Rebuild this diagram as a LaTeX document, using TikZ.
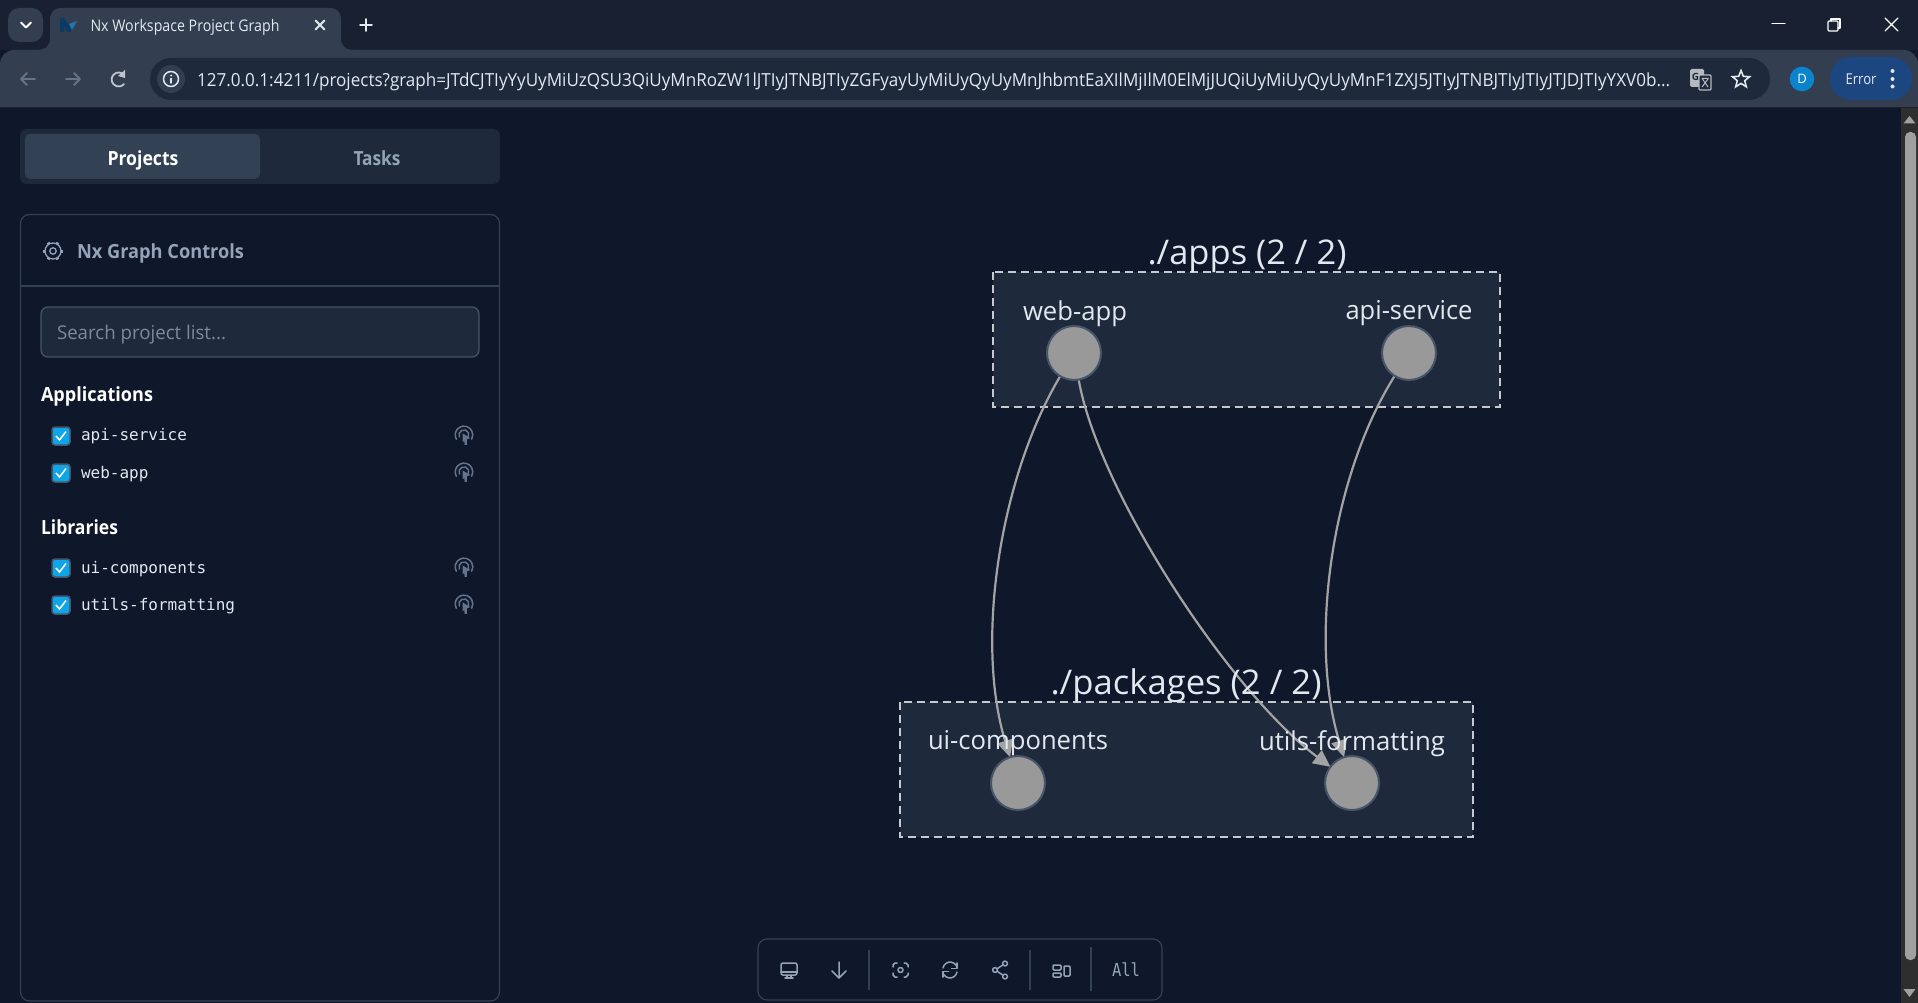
\documentclass[tikz,border=0pt]{standalone}
\usepackage{graphicx}
\usepackage{fontspec}
\setmainfont{Open Sans}
\setmonofont{DejaVu Sans Mono}
\usetikzlibrary{arrows.meta,shapes.geometric,calc}
\definecolor{pagebg}{HTML}{0F172A}
\definecolor{titlebg}{HTML}{182032}
\definecolor{chromebg}{HTML}{333E50}
\definecolor{pillbg}{HTML}{1E293B}
\definecolor{slatea}{HTML}{334155}
\definecolor{slateb}{HTML}{475569}
\definecolor{slatec}{HTML}{64748B}
\definecolor{slated}{HTML}{94A3B8}
\definecolor{lighttext}{HTML}{E2E8F0}
\definecolor{nodegrey}{HTML}{999999}
\definecolor{edgegrey}{HTML}{A3A3A3}
\definecolor{dashgrey}{HTML}{C6C9CE}
\definecolor{skyblue}{HTML}{0EA5E9}
\definecolor{avatarblue}{HTML}{0A84CC}
\definecolor{errorblue}{HTML}{1C4680}
\definecolor{scrolltrack}{HTML}{2E2E2E}
\definecolor{scrollthumb}{HTML}{A0A0A0}
\definecolor{favdark}{HTML}{0B3A66}
\definecolor{favlight}{HTML}{1F77A8}
\newsavebox\fitbox
\newcommand\fitw[2]{\sbox\fitbox{#2}\pgfmathsetmacro\fitr{#1/\the\wd\fitbox}\scalebox{\fitr}[1]{\usebox\fitbox}}
\newcommand\px[1]{\fontsize{#1}{#1}\selectfont}
\pgfdeclarelayer{back}
\pgfdeclarelayer{edgelayer}
\pgfsetlayers{back,edgelayer,main}
\tikzset{
  txt/.style={inner sep=0pt,outer sep=0pt,anchor=center},
  ltxt/.style={inner sep=0pt,outer sep=0pt,anchor=west},
  groupbox/.style={draw=dashgrey,fill=pillbg,line width=2.4pt,dash pattern=on 8pt off 5pt},
  grouplabel/.style={txt,text=lighttext,font=\px{34}},
  nodelabel/.style={txt,text=lighttext,font=\px{26}},
  projnode/.style={circle,fill=nodegrey,draw=slateb,line width=2pt,minimum size=54pt,inner sep=0pt,outer sep=0pt},
  depedge/.style={draw=edgegrey,line width=2.2pt,-{Triangle[length=17pt,width=16pt]}},
  icon/.style={draw=#1,line width=1.5pt,line cap=round,line join=round,fill=none},
  icon/.default=slated,
  chkbox/.pic={
    \draw[fill=skyblue,draw=slateb,line width=1.5pt,rounded corners=3pt] (-9,-9) rectangle (9,9);
    \draw[white,line width=1.5pt] (-5,0) -- (-1.5,4) -- (5,-4.5);
  },
  clickmark/.pic={
    \draw[icon=slatec] (-4.6,2) arc (155:385:5);
    \draw[icon=slatec] (-7.7,4.2) arc (151:389:8.8);
    \draw[slatec,fill=slatec,line width=.6pt] (-1,-1) -- (5.5,3) -- (2.5,4.2) -- (2.5,9.5) -- (1,9.5) -- (0.5,5) -- (-1,6.5) -- cycle;
  },
}
\begin{document}
\begin{tikzpicture}[x=1pt,y=-1pt]
\useasboundingbox (0,0) rectangle (1918,1003);
\begin{pgfonlayer}{back}
\fill[pagebg] (0,0) rectangle (1918,1003);
% graph group boxes
\path[groupbox] (993,272) rectangle (1500,407);
\path[groupbox] (900,702) rectangle (1473,837);
\end{pgfonlayer}
% chrome
\fill[titlebg] (0,0) rectangle (1918,50);
\fill[chromebg,rounded corners=14pt] (0,50) rectangle (1918,90);
\fill[chromebg] (0,70) rectangle (1918,108);
\fill[chromebg] (36,50) .. controls (46,50) and (50,46) .. (50,38) -- (50,20) .. controls (50,12) and (54,8) .. (62,8) -- (329,8) .. controls (337,8) and (341,12) .. (341,20) -- (341,38) .. controls (341,46) and (345,50) .. (355,50) -- cycle;
\fill[chromebg,rounded corners=11pt] (8,8) rectangle (43,42);
\draw[icon=white,line width=1.8pt] (21,22.5) -- (26,27.5) -- (31,22.5);
% favicon
\fill[favdark] (60,32) -- (60,18) -- (64,18) -- (71,28) -- (71,32) -- (67,32) -- (64,26) -- (64,32) -- cycle;
\fill[favlight] (69,24) -- (77,21) -- (72,30) -- cycle;
\node[ltxt,text=lighttext,font=\px{16}] (tabtitle) at (90.5,27) {\fitw{189}{Nx Workspace Project Graph}};
\draw[icon=lighttext,line width=1.8pt] (315.5,20.5) -- (324.5,29.5) (324.5,20.5) -- (315.5,29.5);
\draw[icon=lighttext,line width=1.8pt] (360,25) -- (372,25) (366,19) -- (366,31);
% window controls
\draw[icon=white,line width=1.2pt] (1772,23.5) -- (1785,23.5);
\draw[icon=white,line width=1.2pt,line cap=butt,rounded corners=1pt] (1828,21) rectangle (1838,31);
\draw[icon=white,line width=1.2pt] (1831,21) -- (1831,19) -- (1840,19) -- (1840,28) -- (1838,28);
\draw[icon=white,line width=1.2pt] (1885,18) -- (1898,31) (1898,18) -- (1885,31);
% nav icons
\draw[icon=slatec,line width=1.8pt] (35,79) -- (21,79) (27,73) -- (21,79) -- (27,85);
\draw[icon=slatec,line width=1.8pt] (66,79) -- (80,79) (74,73) -- (80,79) -- (74,85);
\draw[icon=lighttext!85!black,line width=1.8pt] (124,75) arc (-40:-320:7);
\fill[lighttext!85!black] (125,70) -- (125,78) -- (118,76) -- cycle;
% address bar
\fill[pillbg,rounded corners=21pt] (150,58) rectangle (1770,100);
\fill[chromebg] (171,79) circle (14);
\draw[icon=lighttext,line width=1.5pt] (171,79) circle (7.5);
\fill[lighttext] (171,75.5) circle (1);
\draw[icon=lighttext] (171,78.5) -- (171,83);
\node[ltxt,text=lighttext,font=\px{18}] (urltext) at (197,81.5) {\fitw{1473}{127.0.0.1:4211/projects?graph=JTdCJTIyYyUyMiUzQSU3QiUyMnRoZW1lJTIyJTNBJTIyZGFyayUyMiUyQyUyMnJhbmtEaXIlMjIlM0ElMjJUQiUyMiUyQyUyMnF1ZXJ5JTIyJTNBJTIyJTIyJTJDJTIyYXV0b...}};
% translate icon
\fill[lighttext!80!black,rounded corners=1.5pt] (1690,69) rectangle (1704,87);
\fill[pillbg] (1699,75) rectangle (1712,91);
\draw[lighttext!80!black,line width=1.2pt,rounded corners=1pt] (1699,75) rectangle (1711,90);
\node[txt,text=pillbg,font=\bfseries\px{10}] (transg) at (1695.5,77) {G};
\draw[lighttext!80!black,line width=1pt] (1701.5,78.5) -- (1708.5,78.5) (1702.5,79) -- (1708,87) (1708,79) -- (1702,87);
\node[star,star points=5,star point ratio=2.3,draw=lighttext,line width=1.6pt,minimum size=18pt,inner sep=0pt] (favstar) at (1741,79.5) {};
% profile
\fill[avatarblue] (1802,79) circle (12.3);
\node[txt,text=white,font=\px{13}] (avatar) at (1802,79) {D};
\fill[errorblue,rounded corners=21pt] (1830,57) rectangle (1912,100);
\node[txt,text=lighttext,font=\px{15}] (errtxt) at (1861,79.5) {\fitw{31}{Error}};
\fill[lighttext] (1892.5,71) circle (2) (1892.5,79) circle (2) (1892.5,86.5) circle (2);
\fill[black!45!chromebg] (0,107) rectangle (1918,108.5);
% scrollbar
\fill[scrolltrack] (1901,108.5) rectangle (1918,1003);
\fill[scrollthumb,rounded corners=5pt] (1905,132) rectangle (1916,960);
\fill[scrollthumb] (1903.5,123.5) -- (1909.5,116) -- (1915.5,123.5) -- cycle;
\fill[scrollthumb] (1903.5,989) -- (1915.5,989) -- (1909.5,997) -- cycle;
% tabs
\fill[pillbg,rounded corners=7pt] (20,129) rectangle (500,184);
\fill[slatea,rounded corners=5pt] (25,134) rectangle (260,179);
\node[txt,text=white,font=\bfseries\px{19.5}] (tabprojects) at (143,160) {\fitw{71}{Projects}};
\node[txt,text=slated,font=\bfseries\px{19.5}] (tabtasks) at (377,158.5) {\fitw{47}{Tasks}};
% control card
\draw[slatea,line width=1.2pt,rounded corners=9pt] (20.5,214.5) rectangle (499.5,1001);
\draw[slatea,line width=1.2pt] (20.5,286) -- (499.5,286);
\draw[icon,line width=1.3pt] (53,251) circle (3.2);
\draw[icon,line width=1.3pt] (53,251) circle (8);
\foreach \a in {0,60,...,300}{\draw[slated,line width=3pt] ($(53,251)+(\a:8)$) -- ($(53,251)+(\a:9.8)$);}
\node[ltxt,text=slated,font=\bfseries\px{19.5}] (panelhead) at (77,253.5) {\fitw{167}{Nx Graph Controls}};
\draw[fill=pillbg,draw=slateb,line width=1.2pt,rounded corners=7pt] (41,307) rectangle (479,357);
\node[ltxt,text=slated!85!black,font=\px{19}] (searchtxt) at (57,335) {\fitw{169}{Search project list...}};
\node[ltxt,text=white,font=\bfseries\px{19.5}] (apphead) at (41,396.5) {\fitw{112}{Applications}};
\node[ltxt,text=white,font=\bfseries\px{19.5}] (libhead) at (41,527.5) {\fitw{77}{Libraries}};
\foreach \yy/\nm/\lab/\dy in {436/ia/api-service/0,473/ib/web-app/1,568/ic/ui-components/1,605/id/utils-formatting/1}{
  \pic at (61,\yy) {chkbox};
  \pic at (464,\yy-1) {clickmark};
  \node[ltxt,text=lighttext,font=\ttfamily\px{16}] (\nm) at (81,\yy+\dy) {\lab};
}
% bottom toolbar
\draw[slatea,line width=1.2pt,rounded corners=9pt] (758,939) rectangle (1162,1000);
\draw[slatea,line width=1.2pt] (869,950) -- (869,990) (1030,950) -- (1030,990) (1091,947) -- (1091,991);
\draw[icon,rounded corners=2pt] (781,963) rectangle (797,975);
\draw[icon] (781,972) -- (797,972) (787,975) -- (787,978) (791,975) -- (791,978) (785,978) -- (793,978);
\draw[icon] (839,962) -- (839,978) (832,971) -- (839,978) -- (846,971);
\draw[icon] (893,967) -- (893,965) -- (895,963) -- (897,963) (904,963) -- (906,963) -- (908,965) -- (908,967) (908,973) -- (908,975) -- (906,977) -- (904,977) (897,977) -- (895,977) -- (893,975) -- (893,973);
\draw[icon] (900.5,970) circle (2.5);
\draw[icon] (943,968) arc (-170:-30:7.2);
\draw[icon] (957,972) arc (10:150:7.2);
\draw[icon] (957,963) -- (957,968.5) -- (951.5,968.5);
\draw[icon] (943,977) -- (943,971.5) -- (948.5,971.5);
\draw[icon] (1005,963.5) circle (2.4) (995,970) circle (2.4) (1005,976.5) circle (2.4);
\draw[icon] (997.2,968.7) -- (1003,964.8) (997.2,971.3) -- (1003,975.2);
\draw[icon,rounded corners=1pt] (1053,965) rectangle (1061,970);
\draw[icon,rounded corners=1pt] (1053,973) rectangle (1061,977);
\draw[icon,rounded corners=1pt] (1064,966) rectangle (1070,976);
\node[txt,text=slated,font=\ttfamily\px{18}] (alltxt) at (1126,969.5) {\fitw{28}{All}};
% graph nodes
\node[projnode] (webapp) at (1074,353) {};
\node[projnode] (apisvc) at (1409,353) {};
\node[projnode] (uicomp) at (1018,783) {};
\node[projnode] (utilsf) at (1352,783) {};
\node[grouplabel] (appslabel) at (1247,256.5) {\fitw{199}{./apps (2 / 2)}};
\node[grouplabel] (pkgslabel) at (1186,685.5) {\fitw{271}{./packages (2 / 2)}};
\node[nodelabel] (weblabel) at (1075,313.5) {\fitw{104}{web-app}};
\node[nodelabel] (apilabel) at (1409,313.5) {\fitw{127}{api-service}};
\node[nodelabel] (uilabel) at (1018,743.5) {\fitw{180}{ui-components}};
\node[nodelabel] (utlabel) at (1352,743.5) {\fitw{186}{utils-formatting}};
\begin{pgfonlayer}{edgelayer}
\draw[depedge] (webapp) .. controls (999,479) and (975,643) .. (uicomp);
\draw[depedge] (webapp) .. controls (1098,490) and (1228,690) .. (utilsf);
\draw[depedge] (apisvc) .. controls (1330,479) and (1309,643) .. (utilsf);
\end{pgfonlayer}
\end{tikzpicture}
\end{document}
